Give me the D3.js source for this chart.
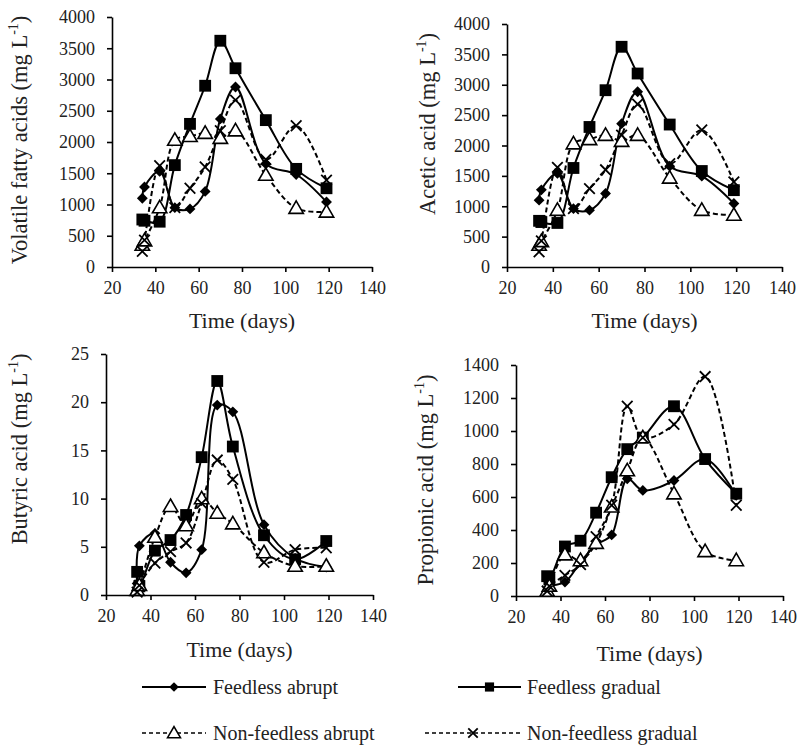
<!DOCTYPE html>
<html>
<head>
<meta charset="utf-8">
<script src="https://cdn.jsdelivr.net/npm/d3@7"></script>
<style>
  body { margin: 0; background: #fff; }
</style>
</head>
<body>
<div id="chart"></div>
<script>
var FONT = "'Liberation Serif', serif";

// sampling days (two samples at start)
var days = [34, 35, 42, 49, 56, 63, 70, 77, 91, 105, 119];
var xTicks = [20, 40, 60, 80, 100, 120, 140];

// volatile fatty acids
var vfaFeedlessAbrupt = [1100, 1280, 1530, 950, 930, 1210, 2370, 2880, 1650, 1480, 1040];
var vfaFeedlessGradual = [760, 740, 725, 1630, 2290, 2900, 3620, 3180, 2350, 1570, 1260];
var vfaNonAbrupt = [350, 420, 950, 2030, 2090, 2140, 2060, 2180, 1470, 940, 880];
var vfaNonGradual = [250, 430, 1620, 950, 1260, 1600, 2180, 2670, 1720, 2260, 1390];

// acetic acid
var aceFeedlessAbrupt = [1100, 1270, 1540, 960, 935, 1210, 2360, 2885, 1660, 1495, 1045];
var aceFeedlessGradual = [760, 740, 725, 1630, 2305, 2910, 3625, 3185, 2345, 1580, 1265];
var aceNonAbrupt = [360, 420, 935, 2030, 2100, 2170, 2070, 2170, 1465, 935, 855];
var aceNonGradual = [250, 430, 1640, 960, 1290, 1600, 2170, 2680, 1700, 2255, 1400];

// butyric acid
var butFeedlessAbrupt = [1.2, 5.1, 6.4, 3.4, 2.3, 4.7, 19.7, 19.0, 7.3, 3.8, 2.9];
var butFeedlessGradual = [2.4, 0.9, 4.6, 5.7, 8.3, 14.3, 22.2, 15.4, 6.2, 3.7, 5.6];
var butNonAbrupt = [0.5, 1.0, 6.0, 9.2, 7.2, 10.0, 8.5, 7.4, 4.4, 3.0, 3.0];
var butNonGradual = [0.3, 1.0, 3.3, 4.5, 5.4, 9.5, 14.0, 12.0, 3.4, 4.7, 4.9];

// propionic acid
var proFeedlessAbrupt = [100, 70, 85, 205, 310, 370, 710, 640, 700, 830, 610];
var proFeedlessGradual = [120, 100, 300, 335, 505, 720, 890, 960, 1150, 830, 620];
var proNonAbrupt = [30, 60, 250, 215, 320, 540, 760, 960, 620, 270, 215];
var proNonGradual = [30, 60, 125, 190, 360, 550, 1150, 960, 1040, 1330, 550];

var seriesNames = ["Feedless abrupt", "Feedless gradual", "Non-feedless abrupt", "Non-feedless gradual"];

var panels = [
  { label: "Volatile fatty acids (mg L", left: 112, right: 372, top: 17, bottom: 267, yMax: 4000, yStep: 500,
    titleX: 19, titleY: 140, xTitleY: 320,
    values: [vfaFeedlessAbrupt, vfaFeedlessGradual, vfaNonAbrupt, vfaNonGradual] },
  { label: "Acetic acid (mg L", left: 507, right: 782, top: 24, bottom: 267, yMax: 4000, yStep: 500,
    titleX: 427, titleY: 124, xTitleY: 320,
    values: [aceFeedlessAbrupt, aceFeedlessGradual, aceNonAbrupt, aceNonGradual] },
  { label: "Butyric acid (mg L", left: 106, right: 373, top: 354, bottom: 595, yMax: 25, yStep: 5,
    titleX: 19, titleY: 449, xTitleY: 649,
    values: [butFeedlessAbrupt, butFeedlessGradual, butNonAbrupt, butNonGradual] },
  { label: "Propionic acid (mg L", left: 516, right: 783, top: 365, bottom: 596, yMax: 1400, yStep: 200,
    titleX: 425, titleY: 480, xTitleY: 653,
    values: [proFeedlessAbrupt, proFeedlessGradual, proNonAbrupt, proNonGradual] }
];

var svg = d3.select("#chart").append("svg")
    .attr("width", 800)
    .attr("height", 749);

var symbols = [d3.symbolDiamond2, d3.symbolSquare, d3.symbolTriangle, d3.symbolTimes];
var symbolSizes = [75, 140, 90, 75];
var dashes = [null, null, "5,3", "5,3"];

function drawMarker(g, i, x, y, scale) {
  scale = scale || 1;
  var sym = d3.symbol().type(symbols[i]).size(symbolSizes[i] * scale);
  var p = g.append("path")
    .attr("d", sym)
    .attr("transform", "translate(" + x + "," + (i == 2 ? y + 1 : y) + ")");
  if (i == 2) {
    p.attr("fill", "#fff").attr("stroke", "#000").attr("stroke-width", 1.6);
  } else if (i == 3) {
    p.attr("fill", "none").attr("stroke", "#000").attr("stroke-width", 1.8);
  } else {
    p.attr("fill", "#000");
  }
}

panels.forEach(function (pn) {
  var x = d3.scaleLinear().domain([20, 140]).range([pn.left, pn.right]);
  var y = d3.scaleLinear().domain([0, pn.yMax]).range([pn.bottom, pn.top]);
  var g = svg.append("g");

  var xAxis = g.append("g")
    .attr("transform", "translate(0," + pn.bottom + ")")
    .call(d3.axisBottom(x).tickValues(xTicks).tickFormat(d3.format("d"))
      .tickSize(5).tickPadding(9).tickSizeOuter(0));
  var yAxis = g.append("g")
    .attr("transform", "translate(" + pn.left + ",0)")
    .call(d3.axisLeft(y).tickValues(d3.range(0, pn.yMax + 1, pn.yStep)).tickFormat(d3.format("d"))
      .tickSize(5).tickPadding(12).tickSizeOuter(0));

  [xAxis, yAxis].forEach(function (a) {
    a.attr("font-family", FONT).attr("font-size", 18);
    a.selectAll("path, line").attr("stroke", "#000").attr("stroke-width", 1.6);
    a.selectAll("text").attr("fill", "#222");
  });

  var line = d3.line()
    .x(function (d) { return x(d[0]); })
    .y(function (d) { return y(d[1]); })
    .curve(d3.curveCatmullRom.alpha(0.5));

  pn.values.forEach(function (vals, i) {
    var pts = days.map(function (d, k) { return [d, vals[k]]; });
    g.append("path")
      .attr("d", line(pts))
      .attr("fill", "none")
      .attr("stroke", "#000")
      .attr("stroke-width", 2)
      .attr("stroke-dasharray", dashes[i]);
  });
  pn.values.forEach(function (vals, i) {
    days.forEach(function (d, k) {
      drawMarker(g, i, x(d), y(vals[k]));
    });
  });

  // axis titles
  var t = g.append("text")
    .attr("transform", "translate(" + pn.titleX + "," + pn.titleY + ") rotate(-90)")
    .attr("text-anchor", "middle")
    .attr("dy", "0.35em")
    .attr("fill", "#222")
    .attr("font-family", FONT)
    .attr("font-size", 22.5);
  t.append("tspan").text(pn.label);
  t.append("tspan").attr("font-size", 14).attr("dy", "-0.6em").text("-1");
  t.append("tspan").attr("dy", "0.38em").text(")");

  g.append("text")
    .attr("x", (pn.left + pn.right) / 2)
    .attr("y", pn.xTitleY)
    .attr("text-anchor", "middle")
    .attr("dy", "0.35em")
    .attr("fill", "#222")
    .attr("font-family", FONT)
    .attr("font-size", 22)
    .text("Time (days)");
});

// legend
var legendItems = [
  { x0: 142, x1: 206, tx: 213, y: 687 },
  { x0: 458, x1: 521, tx: 527, y: 687 },
  { x0: 142, x1: 206, tx: 213, y: 733 },
  { x0: 425, x1: 521, tx: 527, y: 733 }
];
var lg = svg.append("g");
legendItems.forEach(function (it, i) {
  lg.append("line")
    .attr("x1", it.x0).attr("x2", it.x1)
    .attr("y1", it.y).attr("y2", it.y)
    .attr("stroke", "#000")
    .attr("stroke-width", i < 2 ? 2 : 1.5)
    .attr("stroke-dasharray", i < 2 ? null : "4,3");
  drawMarker(lg, i, (it.x0 + it.x1) / 2, it.y, i == 1 ? 0.6 : 0.8);
  lg.append("text")
    .attr("x", it.tx).attr("y", it.y)
    .attr("dy", "0.35em")
    .attr("fill", "#222")
    .attr("font-family", FONT)
    .attr("font-size", 20)
    .text(seriesNames[i]);
});
</script>
</body>
</html>
